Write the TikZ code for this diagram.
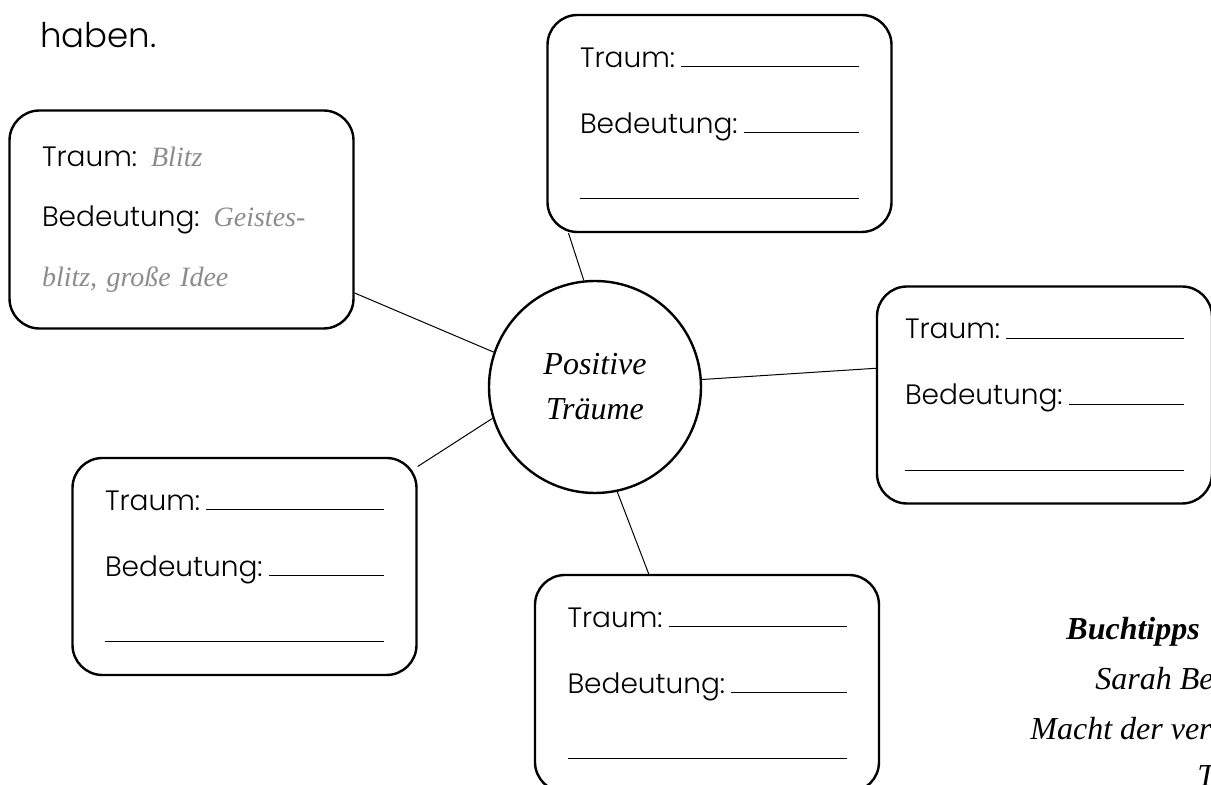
\documentclass[tikz,border=0pt]{standalone}
\usepackage{fontspec}
\newfontfamily\gothic{Poppins}[UprightFont={* Light}]
\newfontfamily\garamond{Liberation Serif}
\usetikzlibrary{positioning}
\definecolor{answergray}{gray}{0.55}
\tikzstyle{dream}=[draw,line width=1.2pt,rounded corners=15pt,minimum width=172pt,minimum height=108.5pt,text width=139.5pt,align=left,inner sep=0pt,font=\gothic\fontsize{14}{33}\selectfont]
\tikzstyle{hub}=[draw,circle,line width=1.2pt,minimum size=106pt,align=center,font=\garamond\itshape\fontsize{16}{22.5}\selectfont]
\tikzstyle{tipp}=[anchor=base west,inner sep=0pt,font=\garamond\itshape\fontsize{16}{20}\selectfont]
\newcommand{\answer}[1]{{\garamond\itshape\color{answergray}#1}}
\newcommand{\blank}{\hspace{3pt}\hrulefill}

\begin{document}
\begin{tikzpicture}[x=0.5pt,y=-0.5pt]
  \useasboundingbox (0,0) rectangle (1211,785);
  \clip (0,0) rectangle (1211,785);
  \node(haben)[anchor=base west,inner sep=0pt,font=\gothic\fontsize{17}{20}\selectfont] at (40,48) {haben.};
  \node(hub)[hub] at (595,387) {Positive\\Träume};
  \node(top)[dream] at (719.5,123.5) {Traum:\blank\\ Bedeutung:\blank\\ \hrulefill};
  \node(left)[dream,font=\gothic\fontsize{14}{30}\selectfont,minimum height=109pt] at (181.5,219.5)
    {Traum: \answer{Blitz}\\ Bedeutung: \answer{Geistes-}\\ \answer{blitz, große Idee}};
  \node(right)[dream,minimum width=167.5pt] at (1044.5,395) {Traum:\blank\\ Bedeutung:\blank\\ \hrulefill};
  \node(bl)[dream] at (244.5,566.5) {Traum:\blank\\ Bedeutung:\blank\\ \hrulefill};
  \node(bc)[dream] at (707,683.5) {Traum:\blank\\ Bedeutung:\blank\\ \hrulefill};
  \path[draw,line width=0.5pt]
    (hub.96) edge (top.216)
    (hub.161) edge (left.337)
    (hub.4) edge (right.171)
    (hub.197) edge (bl.30)
    (hub.282) edge (bc.118);
  % Buchtipp, am Rand abgeschnitten
  \node(tipp)[tipp,font=\garamond\bfseries\itshape\fontsize{16}{20}\selectfont] at (1066,640) {Buchtipps};
  \node(autor)[tipp] at (1095,690) {Sarah Be};
  \node(titel)[tipp] at (1030,740) {Macht der ver};
  \node(rest)[tipp] at (1197,787) {T};
\end{tikzpicture}
\end{document}
